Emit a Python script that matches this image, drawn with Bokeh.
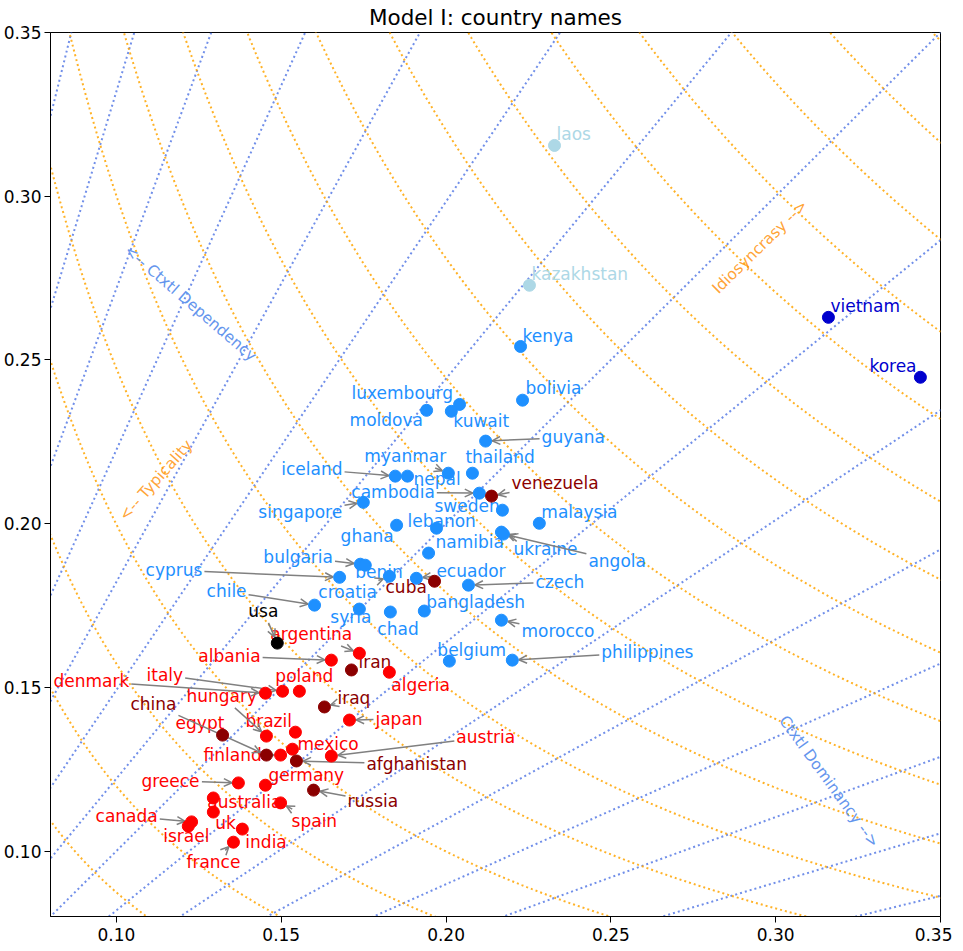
import math
import numpy as np
from bokeh.plotting import figure
from bokeh.models import ColumnDataSource, Label, FixedTicker, NumeralTickFormatter, Range1d
from bokeh.embed import file_html
from bokeh.resources import INLINE
from bokeh.core.properties import value

# ---------------- data ----------------
countries = [
    "laos", "kazakhstan", "vietnam", "korea", "kenya", "bolivia", "luxembourg", "kuwait",
    "moldova", "guyana", "thailand", "myanmar", "nepal", "iceland", "cambodia", "venezuela",
    "sweden", "singapore", "malaysia", "lebanon", "ghana", "ukraine", "angola", "namibia",
    "bulgaria", "benin", "croatia", "cyprus", "ecuador", "cuba", "czech", "chile",
    "syria", "chad", "bangladesh", "morocco", "usa", "belgium", "philippines", "argentina",
    "albania", "iran", "algeria", "denmark", "italy", "poland", "hungary", "iraq",
    "japan", "egypt", "brazil", "mexico", "china", "finland", "afghanistan", "austria",
    "greece", "germany", "russia", "australia", "spain", "uk", "canada", "israel",
    "india", "france",
]
x_vals = [
    0.2329, 0.2253, 0.3160, 0.3439, 0.2226, 0.2232, 0.2041, 0.2016,
    0.1941, 0.2120, 0.2080, 0.2007, 0.1883, 0.1846, 0.2101, 0.2138,
    0.2171, 0.1749, 0.2283, 0.1971, 0.1850, 0.2168, 0.2174, 0.1947,
    0.1740, 0.1755, 0.1828, 0.1677, 0.1910, 0.1965, 0.2068, 0.1601,
    0.1737, 0.1831, 0.1934, 0.2168, 0.1488, 0.2010, 0.2201, 0.1737,
    0.1652, 0.1713, 0.1828, 0.1452, 0.1504, 0.1555, 0.1455, 0.1631,
    0.1707, 0.1322, 0.1543, 0.1534, 0.1455, 0.1498, 0.1546, 0.1652,
    0.1370, 0.1452, 0.1598, 0.1294, 0.1498, 0.1294, 0.1228, 0.1218,
    0.1382, 0.1355,
]
y_vals = [
    0.3155, 0.2728, 0.2630, 0.2447, 0.2541, 0.2377, 0.2364, 0.2343,
    0.2346, 0.2252, 0.2154, 0.2154, 0.2145, 0.2145, 0.2093, 0.2084,
    0.2041, 0.2065, 0.2001, 0.1986, 0.1995, 0.1974, 0.1968, 0.1910,
    0.1876, 0.1873, 0.1839, 0.1836, 0.1833, 0.1824, 0.1812, 0.1751,
    0.1739, 0.1730, 0.1733, 0.1705, 0.1635, 0.1580, 0.1583, 0.1604,
    0.1583, 0.1553, 0.1546, 0.1482, 0.1488, 0.1488, 0.1351, 0.1440,
    0.1400, 0.1354, 0.1363, 0.1311, 0.1293, 0.1293, 0.1275, 0.1290,
    0.1208, 0.1201, 0.1186, 0.1162, 0.1147, 0.1119, 0.1089, 0.1076,
    0.1067, 0.1027,
]
groups = [
    "lb", "lb", "b", "b", "db", "db", "db", "db",
    "db", "db", "db", "db", "db", "db", "db", "dr",
    "db", "db", "db", "db", "db", "db", "db", "db",
    "db", "db", "db", "db", "db", "dr", "db", "db",
    "db", "db", "db", "db", "k", "db", "db", "r",
    "r", "dr", "r", "r", "r", "r", "r", "dr",
    "r", "dr", "r", "r", "dr", "r", "dr", "r",
    "r", "r", "dr", "r", "r", "r", "r", "r",
    "r", "r",
]
label_group_override = {"egypt": "r"}

# guide lines: rays y/x = exp(k*ratio_step); curves sqrt(x*y) = c0 + k*c_step
ratio_step = 0.2
ray_ks = list(range(-7, 8))
typ_c0 = 0.09347
typ_step = 0.015955
typ_ks = list(range(0, 17))

ticks = [0.10, 0.15, 0.20, 0.25, 0.30, 0.35]
title_text = "Model I: country names"
annotations = ["<-- Ctxtl Dependency", "<-- Typicality", "Idiosyncrasy -->", "Ctxtl Dominancy -->"]

# ---------------- styles / layout ----------------
GROUP_COLORS = {"lb": "lightblue", "b": "mediumblue", "db": "dodgerblue",
                "dr": "darkred", "r": "red", "k": "black"}
FONT = "DejaVu Sans"
FS = 17
FRAME_W, FRAME_H = 890, 884
X0, X1, Y0, Y1 = 0.08, 0.35, 0.08, 0.35
SX = (X1 - X0) / FRAME_W
SY = (Y1 - Y0) / FRAME_H

# label placement in screen px (right, down) from point to label's left/middle
label_offsets = {
    "laos": (2, -11), "kazakhstan": (2, -11), "vietnam": (2, -11), "korea": (-51, -11),
    "kenya": (2, -10), "bolivia": (3, -12), "luxembourg": (-108, -11), "kuwait": (2, 10),
    "moldova": (-77, 10), "guyana": (56, -4), "thailand": (-7, -16), "myanmar": (-84, -17),
    "nepal": (6, 3), "iceland": (-114, -7), "cambodia": (-128, -1), "venezuela": (20, -13),
    "sweden": (-68, -4), "singapore": (-105, 10), "malaysia": (2, -11), "lebanon": (-29, -7),
    "ghana": (-56, 11), "ukraine": (12, 17), "angola": (85, 27), "namibia": (7, -11),
    "bulgaria": (-97, -7), "benin": (-10, 7), "croatia": (-71, 16), "cyprus": (-194, -7),
    "ecuador": (20, -7), "cuba": (-49, 6), "czech": (67, -3), "chile": (-108, -14),
    "syria": (-29, 8), "chad": (-13, 17), "bangladesh": (2, -9), "morocco": (20, 11),
    "usa": (-29, -32), "belgium": (-12, -11), "philippines": (89, -8), "argentina": (-89, -19),
    "albania": (-133, -4), "iran": (7, -8), "algeria": (2, 13), "denmark": (-212, -12),
    "italy": (-136, -16), "poland": (-24, -15), "hungary": (-80, -40), "iraq": (13, -9),
    "japan": (26, -1), "egypt": (-47, -12), "brazil": (-50, -11), "mexico": (5, -5),
    "china": (-136, -51), "finland": (-77, 0), "afghanistan": (70, 3), "austria": (125, -19),
    "greece": (-97, -2), "germany": (3, -10), "russia": (34, 11), "australia": (-6, 4),
    "spain": (11, 18), "uk": (2, 11), "canada": (-96, -6), "israel": (-25, 10),
    "india": (3, 13), "france": (-47, 20),
}
# annotation centers (data) and angles (deg)
annot_pos = [(0.12245, 0.26728, -40.7, "cornflowerblue", 1.0),
             (0.11198, 0.21325, 48.5, "darkorange", 0.8),
             (0.29524, 0.28452, 44.4, "darkorange", 0.8),
             (0.31617, 0.12122, -54.0, "cornflowerblue", 1.0)]

CHAR_W = {"a": .613, "b": .635, "c": .550, "d": .635, "e": .615, "f": .352, "g": .635,
          "h": .634, "i": .278, "j": .278, "k": .579, "l": .278, "m": .974, "n": .634,
          "o": .612, "p": .635, "q": .635, "r": .411, "s": .521, "t": .392, "u": .634,
          "v": .592, "w": .818, "x": .592, "y": .592, "z": .525}


def text_w(s):
    return sum(CHAR_W.get(ch, 0.6) for ch in s) * FS


p = figure(frame_width=FRAME_W, frame_height=FRAME_H,
           x_range=Range1d(X0, X1), y_range=Range1d(Y0, Y1),
           output_backend="svg", toolbar_location=None, title=title_text,
           min_border_left=48, min_border_right=12, min_border_top=0, min_border_bottom=0)
p.grid.visible = False
p.background_fill_color = "white"
p.border_fill_color = "white"
p.outline_line_color = "black"
p.outline_line_width = 1
p.title.align = "center"
p.title.text_font = FONT
p.title.text_font_size = "21.5px"
p.title.text_font_style = "normal"
p.title.text_color = "black"
p.title.standoff = 5

for ax in (p.xaxis, p.yaxis):
    ax.ticker = FixedTicker(ticks=ticks)
    ax.formatter = NumeralTickFormatter(format="0.00")
    ax.major_label_text_font = FONT
    ax.major_label_text_font_size = "17px"
    ax.major_label_text_color = "black"
    ax.minor_tick_line_color = None
    ax.major_tick_in = 0
    ax.major_tick_out = 6
    ax.major_tick_line_color = "black"
    ax.axis_line_color = "black"
p.yaxis.major_label_standoff = 3
p.yaxis.major_tick_out = 6
p.xaxis.major_label_standoff = 5

# guide rays
ray_xs, ray_ys = [], []
for k in ray_ks:
    m = math.exp(k * ratio_step)
    ray_xs.append([0.0, 1.0])
    ray_ys.append([0.0, m])
p.multi_line(ray_xs, ray_ys, line_color="royalblue", line_alpha=0.75, line_width=2, line_dash="2 3")

# guide curves
cx_list, cy_list = [], []
for k in typ_ks:
    c = typ_c0 + k * typ_step
    xx = np.geomspace(c * c / 0.40, 0.40, 300)
    cx_list.append(list(xx))
    cy_list.append(list(c * c / xx))
p.multi_line(cx_list, cy_list, line_color="orange", line_alpha=0.85, line_width=2, line_dash="2 3")

# labels and arrows
lx, ly, lcol = [], [], []
seg_x0, seg_y0, seg_x1, seg_y1 = [], [], [], []
for name, x, y, g in zip(countries, x_vals, y_vals, groups):
    dx, dy = label_offsets[name]
    lx.append(x + dx * SX)
    ly.append(y - dy * SY)
    lcol.append(GROUP_COLORS[label_group_override.get(name, g)])
    w = text_w(name)
    h = FS * 1.15
    cxp, cyp = dx + w / 2, dy
    dist = math.hypot(cxp, cyp)
    if dist == 0:
        continue
    ux, uy = -cxp / dist, -cyp / dist
    tx = (w / 2 + 2) / abs(ux) if abs(ux) > 1e-9 else 1e9
    ty = (h / 2 + 2) / abs(uy) if abs(uy) > 1e-9 else 1e9
    t0 = min(tx, ty)
    t1 = dist - 6.5
    if t1 - t0 < 5:
        continue
    sxp, syp = cxp + ux * t0, cyp + uy * t0
    exp_, eyp = cxp + ux * t1, cyp + uy * t1
    segs = [((sxp, syp), (exp_, eyp))]
    bx, by = -ux, -uy
    for sg in (1, -1):
        a = math.radians(26) * sg
        rx = bx * math.cos(a) - by * math.sin(a)
        ry = bx * math.sin(a) + by * math.cos(a)
        segs.append(((exp_, eyp), (exp_ + rx * 9, eyp + ry * 9)))
    for (a0, b0), (a1, b1) in segs:
        seg_x0.append(x + a0 * SX)
        seg_y0.append(y - b0 * SY)
        seg_x1.append(x + a1 * SX)
        seg_y1.append(y - b1 * SY)

text_src = ColumnDataSource(dict(x=lx, y=ly, t=countries, c=lcol))
p.text(x="x", y="y", text="t", text_color="c", source=text_src,
       text_font=value(FONT), text_font_size=f"{FS}px",
       text_align="left", text_baseline="middle")

p.segment(seg_x0, seg_y0, seg_x1, seg_y1, line_color="gray", line_width=1.5)

pt_src = ColumnDataSource(dict(x=x_vals, y=y_vals, c=[GROUP_COLORS[g] for g in groups]))
p.scatter(x="x", y="y", size=12, fill_color="c", line_color="c", source=pt_src)

for txt, (ax_, ay_, ang, col, alp) in zip(annotations, annot_pos):
    p.add_layout(Label(x=ax_, y=ay_, text=txt, angle=math.radians(ang),
                       text_align="center", text_baseline="middle",
                       text_font=FONT, text_font_size="15.5px",
                       text_color=col, text_alpha=alp))

open("out.html", "w").write(file_html(p, INLINE))
